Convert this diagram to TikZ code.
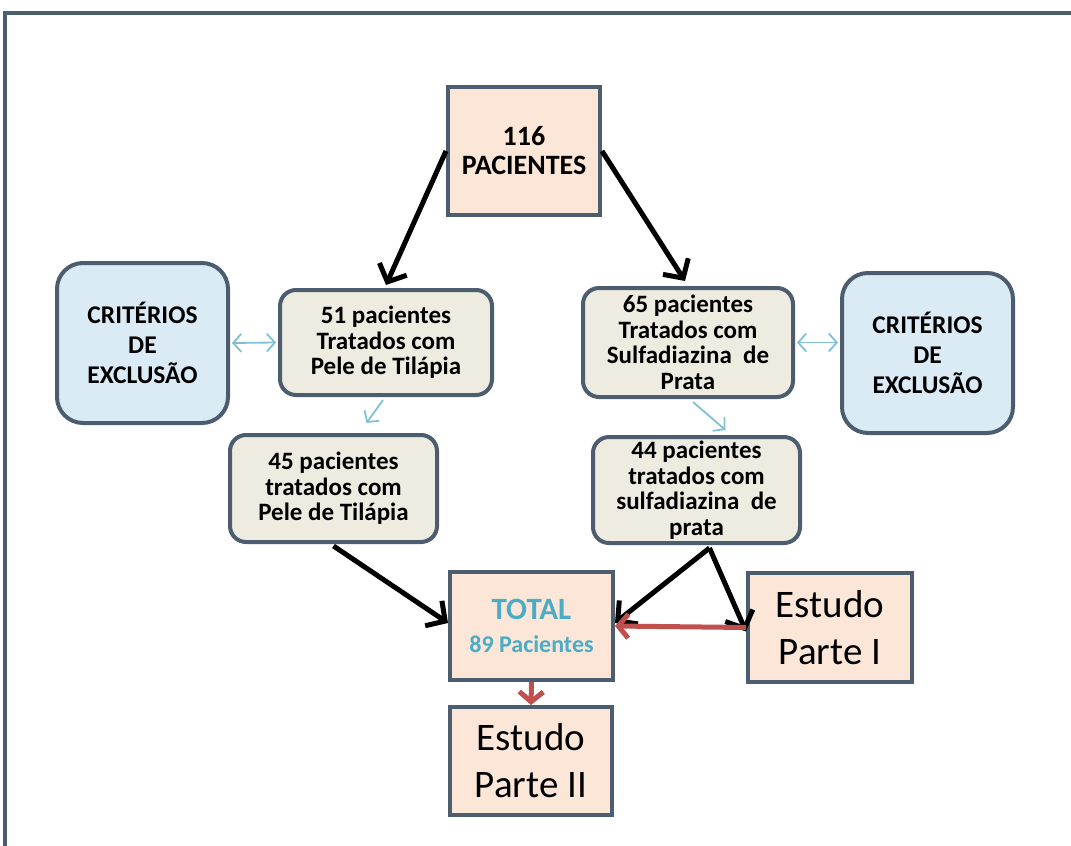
\documentclass[tikz,border=0pt]{standalone}
\usepackage{fontspec}
\setmainfont{Carlito}
\usetikzlibrary{arrows.meta}
\definecolor{edge}{HTML}{4B5D6F}
\definecolor{peach}{HTML}{FCE6D8}
\definecolor{beige}{HTML}{EEEBE1}
\definecolor{lblue}{HTML}{DBEBF5}
\definecolor{cyantx}{HTML}{4BACC6}
\definecolor{thin}{HTML}{7FC1D3}
\definecolor{redar}{HTML}{C0504D}
\tikzset{
  sq/.style={draw=edge, line width=4pt, fill=peach, align=center, inner sep=0pt},
  rbox/.style={draw=edge, line width=4pt, fill=beige, rounded corners=16pt, align=center, inner sep=0pt,
    font=\fontsize{25pt}{25.5pt}\selectfont\bfseries},
  crit/.style={draw=edge, line width=4pt, fill=lblue, rounded corners=26pt, align=center, inner sep=0pt,
    minimum width=171pt, minimum height=160pt, font=\fontsize{25.5pt}{30pt}\selectfont\bfseries},
  big/.style={font=\fontsize{39pt}{47pt}\selectfont},
  blk/.style={draw=black, line width=5pt, -{Straight Barb[length=14pt,width=30pt,line width=5pt]}},
  thn/.style={draw=thin, line width=1.8pt},
  thintip/.tip={Straight Barb[length=8pt,width=18pt,line width=1.8pt]},
  red/.style={draw=redar, line width=5pt, -{Straight Barb[length=10pt,width=24pt,line width=5pt]}}
}
\begin{document}
\begin{tikzpicture}[x=1pt,y=-1pt]
\useasboundingbox (0,0) rectangle (1071,846);
\draw[edge, line width=4pt] (5,846) -- (5,13) -- (1071,13);

\node[sq, minimum width=152pt, minimum height=128pt, font=\fontsize{28pt}{29pt}\selectfont\bfseries] (top) at (524,151) {116\\PACIENTES};
\node[crit] (critL) at (142.5,343) {CRITÉRIOS\\DE\\EXCLUSÃO};
\node[crit] (critR) at (927.5,353) {CRITÉRIOS\\DE\\EXCLUSÃO};
\node[rbox, minimum width=212pt, minimum height=105pt] (b51) at (386,342.5) {51 pacientes\\Tratados com\\Pele de Tilápia};
\node[rbox, minimum width=210pt, minimum height=109pt] (b65) at (688,342.5) {65 pacientes\\Tratados com\\Sulfadiazina\ \ de\\Prata};
\node[rbox, minimum width=207pt, minimum height=107pt] (b45) at (333.5,488.5) {45 pacientes\\tratados com\\Pele de Tilápia};
\node[rbox, minimum width=207pt, minimum height=106pt] (b44) at (696.5,490) {44 pacientes\\tratados com\\sulfadiazina\ \ de\\prata};
\node[sq, minimum width=163pt, minimum height=108pt, text=cyantx, font=\fontsize{24pt}{33pt}\selectfont\bfseries] (total) at (531.5,626)
  {{\fontsize{31pt}{33pt}\selectfont TOTAL}\\89 Pacientes};
\node[sq, minimum width=164pt, minimum height=109pt, big] (e1) at (830,627.5) {Estudo\\Parte I};
\node[sq, minimum width=162pt, minimum height=108pt, big] (e2) at (531,761) {Estudo\\Parte II};

\draw[blk] (top.west) -- ([yshift=3pt]b51.north);
\draw[blk] (top.east) -- ([xshift=-3pt,yshift=5pt]b65.north);
\draw[thn, {thintip}-{thintip}] ([xshift=2pt]critL.east) -- ([xshift=-2pt]b51.west);
\draw[thn, {thintip}-{thintip}] ([xshift=2pt]b65.east) -- ([xshift=-2pt]critR.west |- b65.east);
\draw[thn, -{thintip}] ([xshift=-3pt,yshift=-3pt]b51.south) -- ([xshift=33pt,yshift=10pt]b45.north);
\draw[thn, -{thintip}] ([xshift=5pt,yshift=-3pt]b65.south) -- ([xshift=29pt,yshift=5pt]b44.north);
\draw[blk] ([yshift=-2pt]b45.south) -- ([yshift=3pt]total.west);
\draw[blk] ([xshift=13pt,yshift=-3pt]b44.south) -- ([yshift=3pt]total.east);
\draw[blk] ([xshift=13pt,yshift=-3pt]b44.south) -- ([yshift=-4pt]e1.west);
\draw[red] (e1.west) -- (total.east);
\draw[red] (total.south) -- (e2.north);
\end{tikzpicture}
\end{document}
